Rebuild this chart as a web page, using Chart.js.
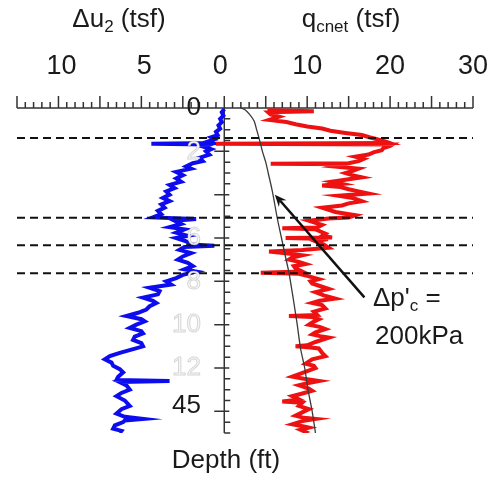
<!DOCTYPE html>
<html>
<head>
<meta charset="utf-8">
<style>
  html, body { margin: 0; padding: 0; background: #fff; }
  #wrap { width: 495px; height: 480px; }
</style>
<script src="https://cdn.jsdelivr.net/npm/chart.js@4.4.1/dist/chart.umd.min.js"></script>
</head>
<body>
<div id="wrap"><canvas id="cpt" width="495" height="480"></canvas></div>
<script>
'use strict';

// ── Data ──────────────────────────────────────────────────────
// Excess pore pressure Δu2 (tsf) against depth
const DU2_DEPTH = [
  0.05, 0.2, 0.35, 0.5, 0.65, 0.8, 0.95, 1.1, 1.25, 1.35, 1.45, 1.55, 1.62, 1.65, 1.68,
  1.8, 1.9, 2.0, 2.15, 2.3, 2.45, 2.55, 2.7, 2.8, 2.95, 3.1, 3.25, 3.4, 3.55, 3.7,
  3.85, 4.0, 4.15, 4.3, 4.45, 4.6, 4.75, 4.9, 5.05, 5.12, 5.2, 5.35, 5.5, 5.6, 5.75,
  5.9, 6.0, 6.15, 6.3, 6.36, 6.42, 6.55, 6.7, 6.85, 7.0, 7.15, 7.3, 7.45, 7.55, 7.7,
  7.85, 8.0, 8.15, 8.3, 8.45, 8.6, 8.75, 8.9, 9.0, 9.15, 9.3, 9.45, 9.6, 9.75, 9.85,
  10.0, 10.15, 10.3, 10.4, 10.55, 10.7, 10.85, 11.0, 11.15, 11.3, 11.45, 11.6, 11.75, 11.9, 12.05,
  12.2, 12.4, 12.55, 12.6, 12.65, 12.8, 13.0, 13.15, 13.3, 13.5, 13.75, 13.9, 14.1, 14.25, 14.35,
  14.42, 14.5, 14.65, 14.8, 14.9, 15.0
];
const DU2 = [
  0.0, 0.15, 0.05, 0.25, 0.15, 0.35, 0.25, 0.5, 0.4, 0.8, 0.6, 1.0, 0.7, 4.4, 0.8,
  1.2, 0.8, 1.1, 0.9, 1.5, 1.3, 1.9, 2.3, 2.0, 2.9, 2.5, 2.9, 2.6, 3.3, 3.0,
  3.5, 3.3, 3.7, 3.3, 3.8, 3.6, 4.0, 3.8, 4.3, 1.7, 3.0, 2.6, 3.3, 2.4, 2.9,
  2.2, 2.9, 2.3, 2.0, 0.6, 2.4, 2.7, 2.0, 2.5, 2.8, 2.2, 1.9, 2.4, 1.7, 2.5,
  2.9, 3.5, 3.2, 4.5, 3.9, 4.0, 4.9, 4.3, 4.1, 4.5, 4.7, 5.2, 5.9, 5.0, 4.8,
  5.3, 5.7, 5.0, 4.9, 5.4, 5.5, 5.0, 4.9, 5.6, 6.3, 6.9, 7.2, 6.8, 6.7, 6.3,
  6.1, 6.4, 6.5, 3.3, 6.3, 5.9, 5.7, 6.2, 6.5, 6.0, 5.7, 6.2, 6.5, 6.0, 4.9,
  6.0, 6.1, 6.6, 6.7, 6.2, 6.3
];

// Net cone resistance qcnet (tsf) against depth
const QC_DEPTH = [
  0.1, 0.15, 0.2, 0.3, 0.4, 0.5, 0.55, 0.65, 0.75, 0.85, 0.95, 1.05, 1.15, 1.25, 1.35,
  1.42, 1.55, 1.62, 1.65, 1.68, 1.75, 1.85, 1.95, 2.05, 2.15, 2.25, 2.35, 2.45, 2.55, 2.57,
  2.6, 2.7, 2.8, 2.9, 3.0, 3.1, 3.2, 3.3, 3.4, 3.5, 3.58, 3.65, 3.75, 3.85, 3.95,
  4.05, 4.15, 4.3, 4.4, 4.5, 4.6, 4.7, 4.8, 4.95, 5.05, 5.1, 5.2, 5.3, 5.4, 5.52,
  5.55, 5.6, 5.7, 5.8, 5.9, 5.98, 6.0, 6.05, 6.15, 6.3, 6.45, 6.55, 6.62, 6.7, 6.8,
  6.9, 7.0, 7.1, 7.2, 7.3, 7.4, 7.55, 7.6, 7.65, 7.75, 7.9, 8.0, 8.1, 8.25, 8.35,
  8.5, 8.65, 8.8, 8.9, 9.0, 9.1, 9.25, 9.4, 9.55, 9.6, 9.65, 9.75, 9.9, 10.0, 10.1,
  10.2, 10.35, 10.45, 10.55, 10.6, 10.8, 10.95, 11.0, 11.05, 11.1, 11.3, 11.45, 11.6, 11.8, 11.9,
  12.0, 12.2, 12.4, 12.5, 12.6, 12.7, 12.8, 12.95, 13.05, 13.2, 13.3, 13.45, 13.55, 13.6, 13.75,
  13.9, 14.05, 14.2, 14.3, 14.35, 14.45, 14.6, 14.7, 14.75, 14.85, 14.95, 15.0
];
const QCNET = [
  5.2, 10.8, 5.3, 5.6, 6.6, 5.8, 5.4, 7.5, 8.6, 10.0, 11.8, 12.8, 14.6, 16.6, 17.5,
  18.2, 19.5, 20.0, -1.0, 20.3, 20.0, 19.2, 19.0, 18.0, 17.4, 15.8, 16.8, 16.2, 15.0, 5.6,
  14.8, 13.4, 16.2, 15.5, 14.6, 15.4, 16.6, 14.8, 13.0, 14.2, 11.8, 14.0, 15.0, 16.2, 17.4,
  13.8, 15.5, 16.6, 15.0, 14.2, 11.8, 12.6, 13.4, 15.8, 15.0, 12.6, 10.2, 11.0, 11.8, 11.2,
  7.0, 11.0, 11.6, 12.2, 11.8, 13.0, 7.4, 12.5, 11.0, 12.0, 12.6, 9.4, 5.4, 7.4, 9.4,
  8.2, 7.8, 9.0, 9.8, 8.4, 8.6, 9.4, 4.4, 9.0, 10.0, 11.4, 10.4, 10.6, 11.8, 12.6,
  11.0, 12.0, 13.4, 11.5, 10.6, 11.8, 12.2, 10.8, 11.2, 7.8, 10.6, 11.4, 10.6, 10.2, 11.5,
  12.2, 11.0, 10.6, 11.8, 12.6, 11.0, 10.0, 8.6, 10.4, 11.4, 11.8, 12.2, 10.6, 9.8, 10.8,
  11.0, 9.6, 8.2, 9.6, 11.4, 10.0, 9.0, 10.2, 10.6, 9.2, 8.2, 9.0, 7.0, 9.4, 9.0,
  10.2, 9.4, 8.6, 9.6, 11.0, 9.4, 8.2, 9.6, 10.2, 9.2, 9.8, 9.5
];

// Preconsolidation line for Δp'c = 200 kPa (qc units)
const DP_DEPTH = [0, 0.08, 0.27, 0.6, 1.0, 1.4, 2.0, 2.5, 3.0, 3.85, 5.1, 6.0, 6.9, 7.6, 9.0, 10.0, 11.1, 12.0, 13.0, 14.0, 15.0];
const DP_QC    = [2.0, 2.5, 3.0, 3.6, 3.9, 4.2, 4.6, 5.0, 5.3, 5.8, 6.4, 6.9, 7.4, 7.8, 8.4, 8.8, 9.2, 9.7, 10.1, 10.6, 11.0];

// Layer boundaries (depth)
const LAYER_DEPTHS = [1.38, 5.06, 6.34, 7.63];

// Callout arrow [qc, depth]
const ARROW_FROM = [16.9, 8.74];
const ARROW_TO   = [6.1, 4.0];

// Axis ticks
const X_MIN = -25, X_MAX = 30;
const DEPTH_MAX = 15;
const DU2_TICKS  = [10, 5];
const QC_TICKS   = [0, 10, 20, 30];
const DEPTH_TICKS  = [0, 2, 6, 8, 10, 12, 14];
const DEPTH_LABELS = ['0', '2', '6', '8', '10', '12', '45'];

// ── Helpers ───────────────────────────────────────────────────
const FONT = '"Liberation Sans", Arial, sans-serif';
const INK = '#1a1a1a';
const pts = (xs, ys, fx = (v) => v) => xs.map((v, i) => ({ x: fx(v), y: ys[i] }));
// Δu2 shares the qc scale: 5 tsf of Δu2 spans 10 qc units, plotted leftwards
const du2ToX = (v) => -2 * v;

function drawParts(ctx, parts, x, baseline, align) {
  let w = 0;
  parts.forEach(p => { ctx.font = `${p.size}px ${FONT}`; w += ctx.measureText(p.t).width; });
  let cx = align === 'center' ? x - w / 2 : x;
  ctx.textAlign = 'left';
  ctx.textBaseline = 'alphabetic';
  parts.forEach(p => {
    ctx.font = `${p.size}px ${FONT}`;
    ctx.fillText(p.t, cx, baseline + (p.dy || 0));
    cx += ctx.measureText(p.t).width;
  });
}

// ── Axes, labels, arrow ───────────────────────────────────────
const cptFrame = {
  id: 'cptFrame',
  beforeDatasetsDraw(chart) {
    const { ctx, chartArea: a, scales: { x, y } } = chart;
    ctx.save();
    ctx.strokeStyle = '#333';
    ctx.lineWidth = 1.5;
    ctx.beginPath();
    ctx.moveTo(a.left, a.top);
    ctx.lineTo(a.right, a.top);
    for (let v = X_MIN; v <= X_MAX; v++) {
      const px = x.getPixelForValue(v);
      const len = v % 5 === 0 ? 12 : 6;
      ctx.moveTo(px, a.top);
      ctx.lineTo(px, a.top - len);
    }
    const x0 = x.getPixelForValue(0);
    ctx.moveTo(x0, a.top);
    ctx.lineTo(x0, a.bottom);
    for (let d = 0.5; d <= DEPTH_MAX; d += 0.5) {
      const py = y.getPixelForValue(d);
      if (d % 2 === 0) { ctx.moveTo(x0 - 10, py); ctx.lineTo(x0 + 5, py); }
      else { ctx.moveTo(x0, py); ctx.lineTo(x0 + 6, py); }
    }
    ctx.stroke();
    ctx.restore();
  },
  afterDatasetsDraw(chart) {
    const { ctx, scales: { x, y } } = chart;
    ctx.save();
    ctx.fillStyle = INK;

    // titles
    drawParts(ctx, [{ t: 'Δu', size: 26 }, { t: '2', size: 17, dy: 5 }, { t: ' (tsf)', size: 26 }], 119, 27, 'center');
    drawParts(ctx, [{ t: 'q', size: 26 }, { t: 'cnet', size: 17, dy: 5 }, { t: ' (tsf)', size: 26 }], 351, 27, 'center');

    // top tick labels
    ctx.font = `27px ${FONT}`;
    ctx.textAlign = 'center';
    ctx.textBaseline = 'alphabetic';
    DU2_TICKS.forEach(v => ctx.fillText(String(v), x.getPixelForValue(du2ToX(v)) + 3, 74));
    QC_TICKS.forEach(v => ctx.fillText(String(v), x.getPixelForValue(v) - (v === 0 ? 4 : 0), 74));

    // depth labels: only the ends are solid, the rest sit washed out over the trace
    ctx.font = `26px ${FONT}`;
    ctx.textAlign = 'right';
    ctx.textBaseline = 'middle';
    DEPTH_TICKS.forEach((d, i) => {
      const px = 201, py = y.getPixelForValue(d) + (d === 14 ? -6 : 0);
      if (d === 0 || d === 14) {
        ctx.fillStyle = INK;
        ctx.fillText(DEPTH_LABELS[i], px, py);
      } else {
        ctx.fillStyle = '#fafafa';
        ctx.fillText(DEPTH_LABELS[i], px, py);
        ctx.strokeStyle = 'rgba(140,140,140,0.35)';
        ctx.lineWidth = 1;
        ctx.strokeText(DEPTH_LABELS[i], px, py);
      }
    });

    ctx.fillStyle = INK;
    ctx.font = `26px ${FONT}`;
    ctx.textAlign = 'center';
    ctx.textBaseline = 'alphabetic';
    ctx.fillText('Depth (ft)', 226, 468);

    // arrow
    const fx = x.getPixelForValue(ARROW_FROM[0]), fy = y.getPixelForValue(ARROW_FROM[1]);
    const tx = x.getPixelForValue(ARROW_TO[0]), ty = y.getPixelForValue(ARROW_TO[1]);
    const ang = Math.atan2(ty - fy, tx - fx);
    const head = 13;
    ctx.strokeStyle = '#111';
    ctx.lineWidth = 2.5;
    ctx.beginPath();
    ctx.moveTo(fx, fy);
    ctx.lineTo(tx - Math.cos(ang) * head * 0.6, ty - Math.sin(ang) * head * 0.6);
    ctx.stroke();
    ctx.fillStyle = '#111';
    ctx.beginPath();
    ctx.moveTo(tx, ty);
    ctx.lineTo(tx - head * Math.cos(ang - 0.4), ty - head * Math.sin(ang - 0.4));
    ctx.lineTo(tx - head * 0.6 * Math.cos(ang), ty - head * 0.6 * Math.sin(ang));
    ctx.lineTo(tx - head * Math.cos(ang + 0.4), ty - head * Math.sin(ang + 0.4));
    ctx.closePath();
    ctx.fill();

    // callout text
    ctx.fillStyle = INK;
    drawParts(ctx, [{ t: 'Δp\'', size: 26 }, { t: 'c', size: 17, dy: 5 }, { t: ' =', size: 26 }], 373, 306, 'left');
    drawParts(ctx, [{ t: '200kPa', size: 26 }], 375, 344, 'left');
    ctx.restore();
  }
};

// ── Chart ─────────────────────────────────────────────────────
const layerSets = LAYER_DEPTHS.map(d => ({
  data: [{ x: X_MIN, y: d }, { x: X_MAX, y: d }],
  showLine: true,
  borderColor: '#111',
  borderWidth: 2,
  borderDash: [8, 5],
  pointRadius: 0
}));

new Chart(document.getElementById('cpt'), {
  type: 'scatter',
  data: {
    datasets: [
      ...layerSets,
      {
        data: pts(DP_QC, DP_DEPTH),
        showLine: true,
        borderColor: '#3a3a3a',
        borderWidth: 1.3,
        tension: 0.3,
        pointRadius: 0
      },
      {
        data: pts(QCNET, QC_DEPTH),
        showLine: true,
        borderColor: '#ee1111',
        borderWidth: 4,
        pointRadius: 0
      },
      {
        data: pts(DU2, DU2_DEPTH, du2ToX),
        showLine: true,
        borderColor: '#0c0cee',
        borderWidth: 4,
        pointRadius: 0
      }
    ]
  },
  options: {
    responsive: false,
    animation: false,
    devicePixelRatio: 1,
    layout: { padding: { left: 17, right: 22, top: 108, bottom: 47 } },
    scales: {
      x: { type: 'linear', min: X_MIN, max: X_MAX, display: false },
      y: { type: 'linear', min: 0, max: DEPTH_MAX, reverse: true, display: false }
    },
    plugins: { legend: { display: false }, tooltip: { enabled: false } }
  },
  plugins: [cptFrame]
});
</script>
</body>
</html>
